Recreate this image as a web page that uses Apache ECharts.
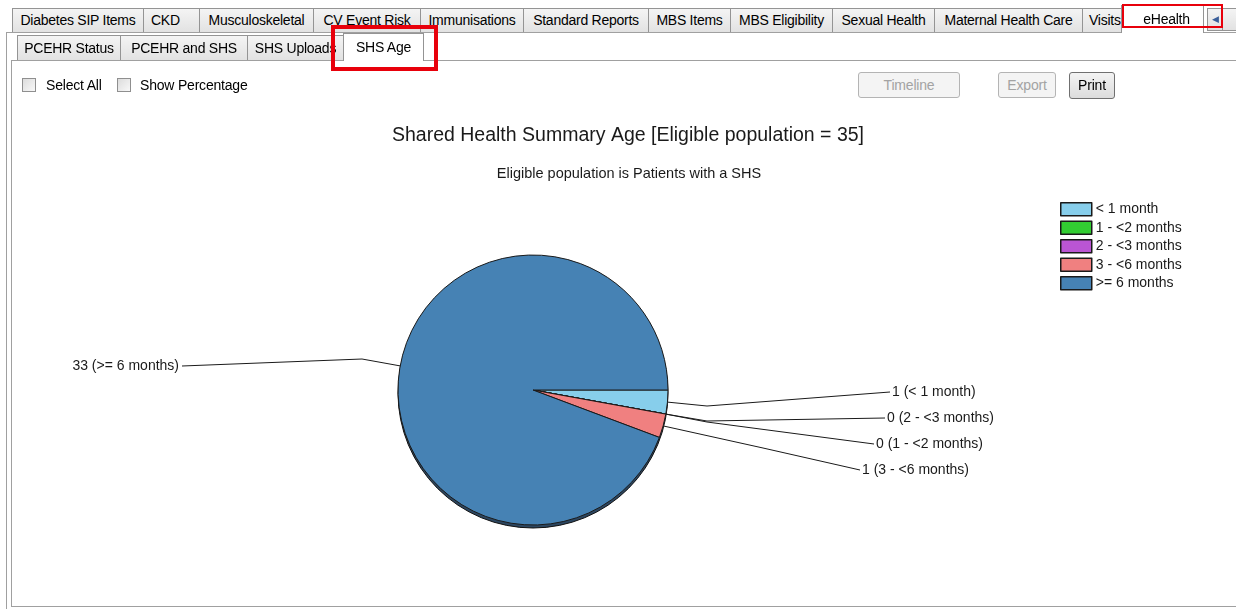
<!DOCTYPE html>
<html>
<head>
<meta charset="utf-8">
<title>SHS Age</title>
<script src="https://cdn.jsdelivr.net/npm/echarts@6/dist/echarts.min.js"></script>
<style>
  html, body {
    margin: 0;
    padding: 0;
    background: #fff;
    font-family: "Liberation Sans", Arial, sans-serif;
    font-size: 14px;
    color: #000;
  }
  #chart {
    position: absolute;
    left: 0;
    top: 0;
    width: 1236px;
    height: 609px;
  }
  .ui {
    position: absolute;
    left: 0;
    top: 0;
    width: 1236px;
    height: 609px;
    pointer-events: none;
    overflow: hidden;
  }
  .ui div {
    position: absolute;
    box-sizing: border-box;
  }
  .tab {
    background: linear-gradient(#f4f4f4, #e2e2e2);
    border: 1px solid #949494;
    border-bottom: none;
    text-align: center;
    white-space: nowrap;
    overflow: hidden;
    letter-spacing: -0.25px;
  }
  .tab.sel {
    background: #fff;
    z-index: 2;
  }
  .line {
    background: #a0a0a0;
  }
  .redbox {
    border: 4px solid #e8000b;
    z-index: 5;
  }
  .chk {
    width: 14px;
    height: 14px;
    border: 1px solid #8f8f8f;
    background: linear-gradient(135deg, #dcdcdc, #f8f8f8);
  }
  .btn {
    border: 1px solid #b4b4b4;
    border-radius: 3px;
    background: #f4f4f4;
    color: #a3a3a3;
    text-align: center;
    line-height: 24px;
    letter-spacing: -0.2px;
  }
  .btn.on {
    border-color: #707070;
    background: linear-gradient(#f3f3f3, #dcdcdc);
    color: #000;
  }
</style>
</head>
<body>
<div id="chart"></div>
<div class="ui">
  <!-- panel frame -->
  <div class="line" style="left:6px;top:32px;width:1230px;height:1px"></div>
  <div class="line" style="left:6px;top:32px;width:1px;height:577px"></div>
  <div class="line" style="left:11px;top:60px;width:1225px;height:1px"></div>
  <div class="line" style="left:11px;top:60px;width:1px;height:546px"></div>
  <div class="line" style="left:11px;top:606px;width:1225px;height:1px"></div>

  <!-- top tab row -->
  <div class="tab" style="left:12px;top:8px;width:132px;height:24px;line-height:23px">Diabetes SIP Items</div>
  <div class="tab" style="left:143px;top:8px;width:57px;height:24px;line-height:23px;text-align:left;padding-left:7px">CKD</div>
  <div class="tab" style="left:199px;top:8px;width:115px;height:24px;line-height:23px">Musculoskeletal</div>
  <div class="tab" style="left:313px;top:8px;width:108px;height:24px;line-height:23px">CV Event Risk</div>
  <div class="tab" style="left:420px;top:8px;width:104px;height:24px;line-height:23px">Immunisations</div>
  <div class="tab" style="left:523px;top:8px;width:126px;height:24px;line-height:23px">Standard Reports</div>
  <div class="tab" style="left:648px;top:8px;width:83px;height:24px;line-height:23px">MBS Items</div>
  <div class="tab" style="left:730px;top:8px;width:103px;height:24px;line-height:23px">MBS Eligibility</div>
  <div class="tab" style="left:832px;top:8px;width:103px;height:24px;line-height:23px">Sexual Health</div>
  <div class="tab" style="left:934px;top:8px;width:149px;height:24px;line-height:23px">Maternal Health Care</div>
  <div class="tab" style="left:1082px;top:8px;width:48px;height:24px;line-height:23px;text-align:left;padding-left:6px">Visits</div>
  <div class="tab sel" style="left:1121px;top:5px;width:83px;height:28px;line-height:26px;padding-left:8px">eHealth</div>
  <div class="tab" style="left:1207px;top:8px;width:16px;height:23px;border-bottom:1px solid #949494;line-height:20px;font-size:9px;color:#3a5f9a">&#9664;</div>
  <div class="tab" style="left:1222px;top:8px;width:16px;height:23px;border-bottom:1px solid #949494"></div>

  <!-- second tab row -->
  <div class="tab" style="left:17px;top:35px;width:104px;height:25px;line-height:25px">PCEHR Status</div>
  <div class="tab" style="left:120px;top:35px;width:128px;height:25px;line-height:25px">PCEHR and SHS</div>
  <div class="tab" style="left:247px;top:35px;width:97px;height:25px;line-height:25px">SHS Uploads</div>
  <div class="tab sel" style="left:343px;top:33px;width:81px;height:28px;line-height:27px">SHS Age</div>

  <!-- annotation boxes -->
  <div class="redbox" style="left:331px;top:25px;width:107px;height:46px"></div>
  <div class="redbox" style="left:1122px;top:4px;width:101px;height:24px;border-width:2px"></div>

  <!-- options -->
  <div class="chk" style="left:22px;top:78px"></div>
  <div style="left:46px;top:77px;line-height:16px;letter-spacing:-0.2px">Select All</div>
  <div class="chk" style="left:117px;top:78px"></div>
  <div style="left:140px;top:77px;line-height:16px;letter-spacing:-0.2px">Show Percentage</div>

  <div class="btn" style="left:858px;top:72px;width:102px;height:26px">Timeline</div>
  <div class="btn" style="left:998px;top:72px;width:58px;height:26px">Export</div>
  <div class="btn on" style="left:1069px;top:72px;width:46px;height:27px">Print</div>
</div>

<script>
// data
var categories = ['< 1 month', '1 - <2 months', '2 - <3 months', '3 - <6 months', '>= 6 months']
var counts = [1, 0, 0, 1, 33]
var sliceColors = ['#87ceeb', '#32cd32', '#ba55d3', '#f08080', '#4682b4']

var total = counts.reduce(function (a, b) { return a + b }, 0)

// pie geometry
var pieCx = 533
var pieCy = 390
var pieR = 135

// label anchors and bends, relative to the pie centre
var labelSpots = [
  { x: 359, y: 1, bx: 174, by: 16, align: 'left' },
  { x: 343, y: 53, bx: 174, by: 32, align: 'left' },
  { x: 354, y: 27, bx: 174, by: 31, align: 'left' },
  { x: 329, y: 79, bx: 230, by: 58, align: 'left' },
  { x: -354, y: -25, bx: -171, by: -31, align: 'right' }
]

var chart = echarts.init(document.getElementById('chart'))

var option = {
  animation: false,
  backgroundColor: 'transparent',
  textStyle: {
    fontFamily: '"Liberation Sans", Arial, sans-serif'
  },
  title: [
    {
      text: 'Shared Health Summary Age [Eligible population = ' + total + ']',
      left: 628,
      top: 126,
      textAlign: 'center',
      padding: 0,
      textStyle: { fontSize: 19.5, fontWeight: 'normal', color: '#1a1a1a' }
    },
    {
      text: 'Eligible population is Patients with a SHS',
      left: 629,
      top: 166,
      textAlign: 'center',
      padding: 0,
      textStyle: { fontSize: 14.5, fontWeight: 'normal', color: '#1a1a1a' }
    }
  ],
  legend: {
    data: categories,
    orient: 'vertical',
    left: 1060,
    top: 202,
    padding: 0,
    icon: 'rect',
    itemWidth: 31,
    itemHeight: 13,
    itemGap: 4,
    selectedMode: false,
    itemStyle: {
      borderColor: '#1a1a1a',
      borderWidth: 1.5
    },
    textStyle: {
      fontSize: 14,
      color: '#1a1a1a',
      padding: [0, 0, 0, -1]
    }
  },
  graphic: {
    elements: [
      {
        type: 'circle',
        z: 0,
        silent: true,
        shape: { cx: pieCx, cy: pieCy + 3, r: pieR },
        style: { fill: '#2c4660', stroke: '#111', lineWidth: 1 }
      }
    ]
  },
  series: [
    {
      name: 'SHS Age',
      type: 'pie',
      z: 5,
      center: [pieCx, pieCy],
      radius: pieR,
      startAngle: 0,
      clockwise: true,
      avoidLabelOverlap: false,
      stillShowZeroSum: true,
      itemStyle: {
        borderColor: '#1a1a1a',
        borderWidth: 1
      },
      label: {
        show: true,
        position: 'outside',
        formatter: '{c} ({b})',
        fontSize: 14,
        color: '#1a1a1a'
      },
      labelLine: {
        show: true,
        lineStyle: { color: '#1a1a1a', width: 1 }
      },
      emphasis: { disabled: true },
      labelLayout: function (params) {
        var s = labelSpots[params.dataIndex]
        var start = params.labelLinePoints && params.labelLinePoints[0]
        if (!start) {
          start = [pieCx, pieCy]
        }
        var lx = pieCx + s.x
        var ly = pieCy + s.y + 1
        var endX = s.align === 'left' ? lx - 2 : lx + 3
        return {
          x: lx,
          y: ly,
          align: s.align,
          verticalAlign: 'middle',
          labelLinePoints: [start, [pieCx + s.bx, pieCy + s.by], [endX, ly]]
        }
      },
      data: categories.map(function (name, i) {
        return { name: name, value: counts[i], itemStyle: { color: sliceColors[i] } }
      })
    }
  ]
}

chart.setOption(option)
</script>
</body>
</html>
